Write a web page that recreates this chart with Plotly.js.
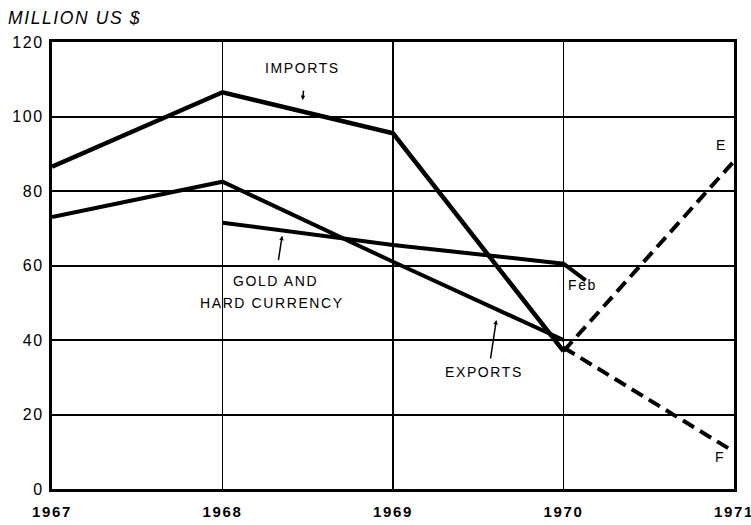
<!DOCTYPE html>
<html>
<head>
<meta charset="utf-8">
<script src="https://cdn.plot.ly/plotly-3.0.1.min.js"></script>
<style>
  html, body { margin: 0; padding: 0; background: #fff; }
  text { letter-spacing: 1.6px; }
</style>
</head>
<body>
<div id="chart" style="width:751px;height:525px;"></div>
<script>
// ---- data ----
const years = [1967, 1968, 1969, 1970];
const imports = [86.5, 106.5, 95.5, 37];
const exports = [73, 82.5, 61, 40];
const goldX = [1968, 1969, 1970, 1970.13];
const gold = [71.5, 65.5, 60.5, 56];
const projX = [1970, 1971];
const projE = [37, 88];
const projF = [38, 10];
const yTicks = [0, 20, 40, 60, 80, 100, 120];
const xTicks = [1967, 1968, 1969, 1970, 1971];

const solid = { color: '#000', width: 4.5 };
const dashed = { color: '#000', width: 4, dash: '13px,7px' };

const traces = [
  { x: years, y: imports, mode: 'lines', line: solid, name: 'Imports' },
  { x: years, y: exports, mode: 'lines', line: Object.assign({}, solid, { width: 4 }), name: 'Exports' },
  { x: goldX, y: gold, mode: 'lines', line: Object.assign({}, solid, { width: 4 }), name: 'Gold and hard currency' },
  { x: projX, y: projE, mode: 'lines', line: dashed, name: 'E' },
  { x: projX, y: projF, mode: 'lines', line: dashed, name: 'F' }
];

const lblFont = { family: 'Liberation Sans, Arial, sans-serif', size: 14, color: '#000' };
function label(text, x, y) {
  return { text: text, x: x, y: y, xref: 'x', yref: 'y', showarrow: false, font: lblFont, xanchor: 'center', yanchor: 'middle' };
}
function arrow(x, y, ax, ay) {
  return { text: '', x: x, y: y, xref: 'x', yref: 'y', showarrow: true, arrowhead: 2, arrowsize: 0.6, arrowwidth: 1.5, arrowcolor: '#000', ax: ax, ay: ay };
}

const layout = {
  width: 751, height: 525,
  margin: { l: 52, r: 17, t: 42, b: 36 },
  paper_bgcolor: '#fff', plot_bgcolor: '#fff',
  showlegend: false,
  title: {
    text: 'MILLION US $',
    x: 8 / 751, xanchor: 'left', xref: 'container',
    y: 1 - 18 / 525, yanchor: 'middle', yref: 'container',
    font: { family: 'Liberation Sans, Arial, sans-serif', size: 17.5, style: 'italic', color: '#000' }
  },
  xaxis: {
    range: [1967, 1971], tickvals: xTicks, ticktext: xTicks.map(String),
    showgrid: true, gridcolor: '#000', gridwidth: 1.5,
    showline: true, mirror: true, linecolor: '#000', linewidth: 3,
    zeroline: false, ticks: '', ticklabelstandoff: 7, ticklabeloverflow: 'allow',
    tickfont: { family: 'Liberation Sans, Arial, sans-serif', size: 15, weight: 'bold', color: '#000' }
  },
  yaxis: {
    range: [0, 120], tickvals: yTicks,
    showgrid: true, gridcolor: '#000', gridwidth: 2,
    showline: true, mirror: true, linecolor: '#000', linewidth: 3,
    zeroline: false, ticks: '', ticklabelstandoff: 2,
    tickfont: { family: 'Liberation Sans, Arial, sans-serif', size: 16, color: '#000' }
  },
  annotations: [
    label('IMPORTS', 1968.47, 113.0),
    arrow(1968.47, 104.4, 1, -11),
    label('GOLD AND', 1968.31, 55.8),
    label('HARD CURRENCY', 1968.29, 49.9),
    arrow(1968.35, 68, -4, 26),
    label('EXPORTS', 1969.536, 31.4),
    arrow(1969.606, 45.4, -6, 40),
    label('Feb', 1970.11, 54.8),
    label('E', 1970.924, 92.3),
    label('F', 1970.918, 8.6)
  ]
};

Plotly.newPlot('chart', traces, layout, { displayModeBar: false, staticPlot: true });
</script>
</body>
</html>
